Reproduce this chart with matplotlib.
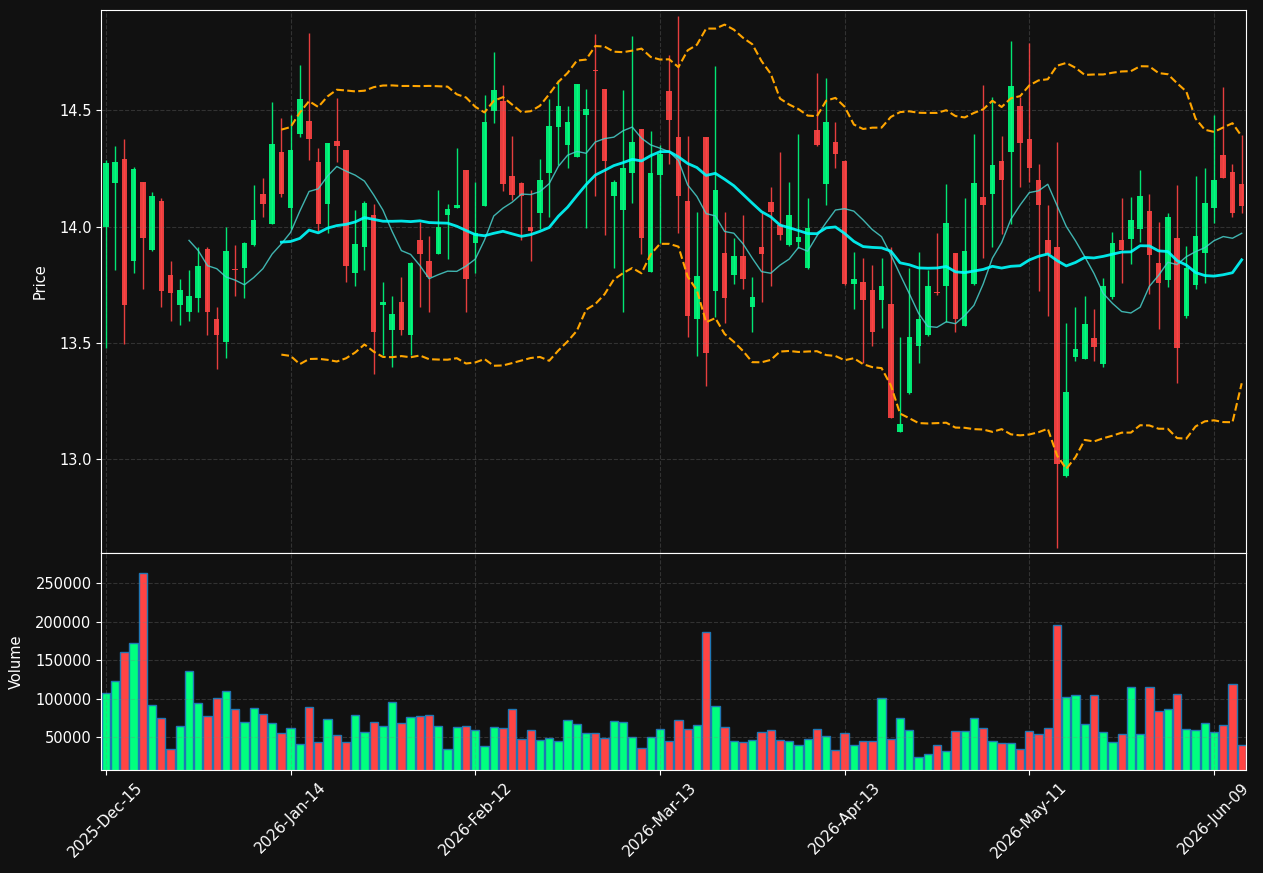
import numpy as np
import pandas as pd
from matplotlib import pyplot as plt

# OHLC values (one per trading day)
opens = [13.997, 14.186, 14.289, 13.850, 14.190, 13.899, 14.112, 13.793, 13.662, 13.631,
         13.692, 13.902, 13.604, 13.501, 13.816, 13.820, 13.920, 14.142, 14.011, 14.319,
         14.079, 14.397, 14.456, 14.279, 14.097, 14.370, 14.328, 13.799, 13.911, 14.050,
         13.662, 13.554, 13.677, 13.532, 13.944, 13.853, 13.881, 14.048, 14.079, 14.242,
         13.929, 14.088, 14.497, 14.541, 14.216, 14.186, 13.997, 14.060, 14.230, 14.427,
         14.350, 14.299, 14.480, 14.674, 14.591, 14.131, 14.071, 14.230, 14.421, 13.804,
         14.221, 14.582, 14.384, 14.112, 13.601, 14.384, 13.722, 13.884, 13.790, 13.875,
         13.653, 13.914, 14.104, 14.005, 13.920, 13.932, 13.820, 14.414, 14.181, 14.363,
         14.284, 13.752, 13.763, 13.725, 13.683, 13.665, 13.115, 13.282, 13.485, 13.532,
         13.716, 13.743, 13.884, 13.571, 13.752, 14.127, 14.139, 14.284, 14.320, 14.521,
         14.375, 14.202, 13.944, 13.914, 12.925, 13.440, 13.431, 13.521, 13.409, 13.695,
         13.940, 13.946, 13.989, 14.069, 13.841, 13.769, 13.949, 13.616, 13.748, 13.885,
         14.079, 14.310, 14.233, 14.181]
highs = [14.287, 14.347, 14.378, 14.257, 14.192, 14.150, 14.121, 13.853, 13.776, 13.814,
         13.914, 13.914, 13.654, 13.998, 13.921, 13.932, 14.180, 14.211, 14.536, 14.468,
         14.479, 14.696, 14.834, 14.340, 14.360, 14.554, 14.330, 14.073, 14.110, 14.098,
         13.761, 13.702, 13.784, 13.849, 14.020, 13.959, 14.159, 14.098, 14.340, 14.244,
         14.190, 14.566, 14.752, 14.609, 14.390, 14.192, 14.156, 14.292, 14.548, 14.631,
         14.518, 14.613, 14.591, 14.828, 14.592, 14.201, 14.589, 14.820, 14.422, 14.412,
         14.352, 14.740, 14.908, 14.391, 14.063, 14.385, 14.692, 14.063, 13.952, 14.050,
         13.784, 14.063, 14.171, 14.322, 14.192, 14.397, 14.124, 14.662, 14.640, 14.452,
         14.285, 13.891, 13.866, 13.835, 13.866, 13.914, 13.524, 13.822, 13.891, 13.813,
         13.973, 14.183, 13.885, 14.124, 14.397, 14.610, 14.559, 14.391, 14.799, 14.559,
         14.792, 14.269, 14.094, 14.363, 13.585, 13.654, 13.699, 13.645, 13.778, 13.977,
         14.121, 14.128, 14.242, 14.140, 14.020, 14.059, 14.178, 13.917, 14.219, 14.251,
         14.480, 14.601, 14.270, 14.394]
lows = [13.479, 13.813, 13.494, 13.801, 13.731, 13.895, 13.654, 13.594, 13.577, 13.594,
        13.633, 13.533, 13.385, 13.435, 13.702, 13.693, 13.918, 14.041, 14.010, 14.128,
        13.989, 14.385, 14.287, 13.982, 13.973, 14.279, 13.761, 13.745, 13.814, 13.366,
        13.446, 13.396, 13.535, 13.447, 13.654, 13.633, 13.880, 13.861, 14.078, 13.633,
        13.799, 14.087, 14.446, 14.153, 14.113, 13.941, 13.850, 13.989, 14.041, 14.267,
        14.252, 14.298, 13.994, 14.131, 13.964, 13.820, 13.633, 14.103, 13.882, 13.803,
        13.929, 14.269, 13.971, 13.524, 13.443, 13.314, 13.612, 13.586, 13.754, 13.731,
        13.547, 13.675, 13.745, 13.943, 13.918, 13.906, 13.818, 14.348, 14.092, 14.251,
        13.750, 13.645, 13.412, 13.486, 13.563, 13.174, 13.114, 13.280, 13.412, 13.530,
        13.705, 13.589, 13.547, 13.570, 13.750, 13.866, 13.914, 13.967, 14.011, 14.171,
        14.192, 13.724, 13.616, 12.618, 12.923, 13.422, 13.429, 13.422, 13.394, 13.690,
        13.758, 13.837, 13.935, 13.708, 13.557, 13.739, 13.326, 13.607, 13.729, 13.758,
        14.014, 14.207, 14.039, 14.060]
closes = [14.272, 14.279, 13.662, 14.249, 13.950, 14.130, 13.722, 13.713, 13.725, 13.702,
          13.832, 13.631, 13.532, 13.893, 13.812, 13.931, 14.030, 14.097, 14.356, 14.139,
          14.328, 14.547, 14.376, 14.009, 14.358, 14.346, 13.829, 13.923, 14.100, 13.545,
          13.675, 13.625, 13.554, 13.844, 13.881, 13.781, 14.000, 14.074, 14.091, 13.773,
          13.974, 14.449, 14.586, 14.183, 14.137, 14.131, 13.979, 14.202, 14.431, 14.521,
          14.452, 14.612, 14.506, 14.670, 14.281, 14.193, 14.254, 14.363, 13.950, 14.231,
          14.314, 14.458, 14.130, 13.615, 13.786, 13.455, 14.156, 13.692, 13.875, 13.773,
          13.695, 13.881, 14.062, 13.962, 14.050, 13.953, 13.995, 14.350, 14.452, 14.311,
          13.752, 13.776, 13.683, 13.544, 13.746, 13.175, 13.148, 13.526, 13.604, 13.746,
          13.713, 14.014, 13.601, 13.893, 14.186, 14.092, 14.263, 14.199, 14.603, 14.360,
          14.251, 14.092, 13.881, 12.977, 13.286, 13.473, 13.580, 13.480, 13.742, 13.931,
          13.899, 14.030, 14.130, 13.876, 13.757, 14.039, 13.476, 13.820, 13.961, 14.100,
          14.202, 14.208, 14.057, 14.088]
volumes = [106900, 122500, 160200, 171950, 263000, 91300, 74400, 34100, 64000, 135500,
           93900, 77400, 100400, 109500, 86100, 69200, 87400, 79600, 67900, 54900,
           61400, 40600, 88700, 43200, 73100, 52300, 43200, 78300, 56200, 69200,
           64000, 95200, 67900, 75700, 77000, 78300, 64000, 34100, 62700, 64000,
           58800, 38000, 62700, 61400, 86100, 47100, 58800, 45800, 48400, 44500,
           71800, 66600, 54900, 54900, 48400, 70500, 69200, 49700, 35400, 49700,
           60100, 44500, 71800, 60100, 65300, 186300, 90000, 62700, 44500, 43200,
           45800, 56200, 58800, 45800, 44500, 39300, 47100, 60100, 51000, 32800,
           54900, 39300, 44500, 44500, 100400, 47100, 74400, 58800, 23700, 27600,
           39300, 31500, 57500, 57500, 74400, 61400, 44500, 41900, 41900, 34100,
           57500, 53600, 61400, 195400, 101700, 104300, 66600, 104300, 56200, 43200,
           53600, 114700, 53600, 114700, 83500, 86100, 105600, 60100, 58800, 67900,
           56200, 65300, 118600, 39300]

tick_pos = [0, 20, 40, 60, 80, 100, 120]
tick_labels = ['2025-Dec-15', '2026-Jan-14', '2026-Feb-12', '2026-Mar-13',
               '2026-Apr-13', '2026-May-11', '2026-Jun-09']

df = pd.DataFrame({'open': opens, 'high': highs, 'low': lows, 'close': closes, 'volume': volumes})
n = len(df)
x = np.arange(n)

up_col = '#00ff7f'
down_col = '#ff4444'
bg = '#111111'
colors = [up_col if c >= o else down_col for o, c in zip(df['open'], df['close'])]

ma10 = df['close'].rolling(10).mean()
ma20 = df['close'].rolling(20).mean()
std20 = df['close'].rolling(20).std(ddof=0)
upper = ma20 + 2 * std20
lower = ma20 - 2 * std20

plt.rcParams['font.size'] = 10.5
fig = plt.figure(figsize=(12.63, 8.73), dpi=100, facecolor=bg)
ax1 = fig.add_axes([0.0802, 0.3667, 0.9066, 0.6215])
ax2 = fig.add_axes([0.0802, 0.1180, 0.9066, 0.2487], sharex=ax1)

# candles
ax1.vlines(x, df['low'], df['high'], colors=colors, linewidth=1, alpha=0.9)
body_h = np.maximum((df['close'] - df['open']).abs(), 0.004)
body_b = np.minimum(df['open'], df['close'])
ax1.bar(x, body_h, bottom=body_b, width=0.6, color=colors, alpha=0.9)

ax1.plot(x, ma10, color='#48d1cc', linewidth=1, alpha=0.85)
ax1.plot(x, ma20, color='cyan', linewidth=2, alpha=0.9)
ax1.plot(x, upper, color='orange', linestyle='--', linewidth=1.5)
ax1.plot(x, lower, color='orange', linestyle='--', linewidth=1.5)

pad = (df['high'].max() - df['low'].min()) * 0.01
ax1.set_ylim(df['low'].min() - pad, df['high'].max() + pad)
ax1.set_ylabel('Price', color='white', labelpad=8)

# volume
ax2.bar(x, df['volume'], width=0.9, color=colors, edgecolor='#1f77b4', linewidth=1)
ax2.set_ylim(df['volume'].min() * 0.3, df['volume'].max() * 1.1)
ax2.set_ylabel('Volume', color='white', labelpad=8)

ax2.set_xlim(-0.5, n - 0.5)
ax2.set_xticks(tick_pos)
ax2.set_xticklabels(tick_labels, rotation=45, fontsize=11)
plt.setp(ax1.get_xticklabels(), visible=False)

for ax in (ax1, ax2):
    ax.set_facecolor(bg)
    ax.grid(True, linestyle='--', color='gray', alpha=0.3)
    ax.tick_params(colors='white')
    for s in ax.spines.values():
        s.set_color('white')
ax2.ticklabel_format(axis='y', style='plain')

fig.savefig('out.png', dpi=100, facecolor=bg)
